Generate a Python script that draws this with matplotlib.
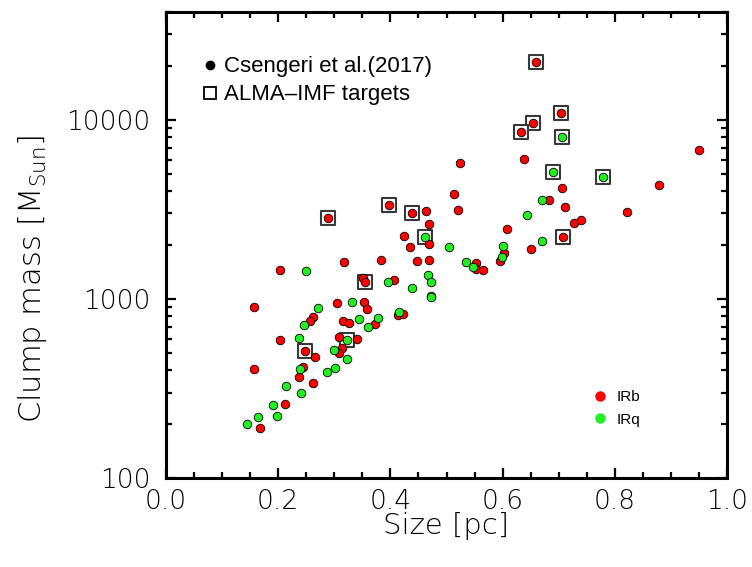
import numpy as np
import matplotlib
matplotlib.use('Agg')
import matplotlib.pyplot as plt
from matplotlib.lines import Line2D
from matplotlib.ticker import FixedLocator, MultipleLocator, LogLocator, NullFormatter, FuncFormatter

plt.rcParams['mathtext.fontset'] = 'custom'
plt.rcParams['mathtext.rm'] = 'DejaVu Sans:weight=light'

# IRb clumps (size [pc], mass [Msun])
irb_size = [0.660, 0.704, 0.654, 0.633, 0.950, 0.524, 0.638, 0.513, 0.706, 0.879,
            0.520, 0.683, 0.711, 0.822, 0.608, 0.727, 0.740, 0.708, 0.651, 0.602,
            0.595, 0.553, 0.553, 0.565, 0.289, 0.398, 0.439, 0.463, 0.469, 0.424,
            0.469, 0.435, 0.447, 0.469, 0.317, 0.203, 0.383, 0.351, 0.355, 0.406,
            0.157, 0.305, 0.353, 0.358, 0.262, 0.257, 0.316, 0.326, 0.373, 0.414,
            0.422, 0.203, 0.308, 0.340, 0.314, 0.308, 0.248, 0.266, 0.157, 0.244,
            0.237, 0.262, 0.212, 0.168]
irb_mass = [21000, 10900, 9600, 8600, 6800, 5750, 6050, 3850, 4150, 4300,
            3150, 3550, 3250, 3050, 2450, 2650, 2750, 2220, 1900, 1800,
            1630, 1590, 1470, 1450, 2830, 3350, 3020, 3100, 2620, 2250,
            2030, 1950, 1630, 1650, 1610, 1450, 1650, 1310, 1245, 1280,
            900, 950, 960, 880, 790, 755, 755, 735, 725, 815,
            825, 590, 615, 600, 530, 500, 512, 475, 405, 417,
            367, 340, 260, 190]

# IRq clumps
irq_size = [0.706, 0.690, 0.779, 0.670, 0.643, 0.670, 0.601, 0.504, 0.535, 0.547,
            0.599, 0.462, 0.467, 0.472, 0.439, 0.472, 0.472, 0.250, 0.396, 0.332,
            0.271, 0.246, 0.344, 0.360, 0.378, 0.415, 0.237, 0.323, 0.299, 0.323,
            0.239, 0.287, 0.301, 0.214, 0.241, 0.191, 0.164, 0.198, 0.144]
irq_mass = [8050, 5100, 4800, 3570, 2950, 2110, 1980, 1950, 1610, 1510,
            1720, 2220, 1360, 1245, 1150, 1040, 1025, 1430, 1245, 960,
            890, 715, 775, 700, 785, 845, 605, 590, 520, 462,
            406, 391, 412, 326, 298, 256, 219, 222, 200]

# ALMA-IMF targets
alma_size = [0.660, 0.704, 0.654, 0.633, 0.706, 0.690, 0.779, 0.708,
             0.289, 0.398, 0.439, 0.462, 0.355, 0.323, 0.248]
alma_mass = [21000, 10900, 9600, 8600, 8050, 5100, 4800, 2220,
             2830, 3350, 3020, 2220, 1245, 590, 512]

red = '#ff0000'
green = '#22ee22'

fig = plt.figure(figsize=(7.52, 5.67), dpi=100)
ax = fig.add_axes([0.2207, 0.157, 0.7461, 0.8218])

ax.scatter(alma_size, alma_mass, marker='s', s=115, facecolor='white',
           edgecolor='#383838', linewidth=1.5, zorder=2)
ax.scatter(irb_size, irb_mass, marker='o', s=38, facecolor=red,
           edgecolor='black', linewidth=0.6, zorder=3)
ax.scatter(irq_size, irq_mass, marker='o', s=38, facecolor=green,
           edgecolor='black', linewidth=0.6, zorder=3)

ax.set_xlim(0, 1.0)
ax.set_yscale('log')
ax.set_ylim(100, 40000)

ax.xaxis.set_major_locator(MultipleLocator(0.2))
ax.xaxis.set_minor_locator(MultipleLocator(0.05))
ax.xaxis.set_major_formatter(FuncFormatter(lambda v, p: '%.1f' % v))
ax.yaxis.set_major_locator(FixedLocator([100, 1000, 10000]))
ax.yaxis.set_major_formatter(FuncFormatter(lambda v, p: '%d' % v))
ax.yaxis.set_minor_locator(LogLocator(base=10, subs=np.arange(2, 10)))
ax.yaxis.set_minor_formatter(NullFormatter())

for s in ax.spines.values():
    s.set_linewidth(2.2)
ax.tick_params(which='both', direction='in', top=True, right=True, width=1.6)
ax.tick_params(which='major', length=7.5, labelsize=19)
ax.tick_params(axis='x', which='major', pad=8)
ax.tick_params(axis='y', which='major', pad=11)
ax.tick_params(which='minor', length=4)
for lab in ax.get_xticklabels() + ax.get_yticklabels():
    lab.set_fontweight('light')

ax.set_xlabel('Size [pc]', fontsize=21, fontweight='light')
ax.set_ylabel(r'Clump mass [M$_{\rm Sun}$]', fontsize=22, fontweight='light')
ax.xaxis.set_label_coords(0.5, -0.072)
ax.yaxis.set_label_coords(-0.209, 0.427)

h1 = [Line2D([], [], linestyle='none', marker='o', markersize=6, color='black'),
      Line2D([], [], linestyle='none', marker='s', markersize=9, markerfacecolor='white',
             markeredgecolor='black', markeredgewidth=1.3)]
leg1 = ax.legend(h1, ['Csengeri et al.(2017)', 'ALMA\u2013IMF targets'],
                 loc='upper left', bbox_to_anchor=(0.068, 0.905), frameon=False,
                 prop={'family': 'Liberation Sans', 'size': 16},
                 handlelength=0.55, handletextpad=0.35, labelspacing=0.32,
                 borderpad=0, borderaxespad=0)
ax.add_artist(leg1)

h2 = [Line2D([], [], linestyle='none', marker='o', markersize=6.5, color=red),
      Line2D([], [], linestyle='none', marker='o', markersize=6.5, color=green)]
ax.legend(h2, ['IRb', 'IRq'], loc='upper left', bbox_to_anchor=(0.765, 0.189),
          frameon=False, prop={'family': 'Liberation Sans', 'size': 11},
          handlelength=0.6, handletextpad=0.8, labelspacing=0.57,
          borderpad=0, borderaxespad=0)

fig.savefig('out.png', dpi=100)
